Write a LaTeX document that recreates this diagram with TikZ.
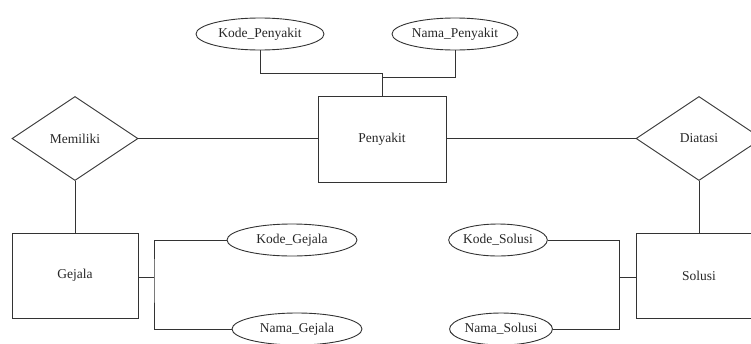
\documentclass[tikz,border=0pt]{standalone}
\usepackage{fontspec}
\setmainfont{Liberation Serif}
\usetikzlibrary{shapes.geometric}
\begin{document}
\begin{tikzpicture}[x=1pt,y=-1pt,
  every node/.style={font=\fontsize{13.5}{15}\selectfont, text=black!85},
  ln/.style={draw=black!80, line width=0.9pt},
  attr/.style={ln, ellipse, inner sep=0pt, minimum height=32pt},
  ent/.style={ln, rectangle, inner sep=0pt},
  rel/.style={ln, diamond, inner sep=0pt, aspect=1.5, minimum width=126pt, minimum height=84pt}]
\useasboundingbox (0,0) rectangle (751,343);
\node[attr, minimum width=128pt] (kp) at (260,34) {Kode\_Penyakit};
\node[attr, minimum width=126pt] (np) at (455,34) {Nama\_Penyakit};
\node[ent, minimum width=128pt, minimum height=86pt] (pen) at (382,139) {Penyakit};
\node[rel] (mem) at (75,138.5) {Memiliki};
\node[rel] (dia) at (699,138.5) {Diatasi};
\node[ent, minimum width=126pt, minimum height=85pt] (gej) at (75,275.5) {Gejala};
\node[ent, minimum width=126pt, minimum height=85pt] (sol) at (699,275.5) {Solusi};
\node[attr, minimum width=130pt] (kg) at (292,240) {Kode\_Gejala};
\node[attr, minimum width=130pt] (ng) at (297,329) {Nama\_Gejala};
\node[attr, minimum width=96pt] (ks) at (498,240) {Kode\_Solusi};
\node[attr, minimum width=102pt] (ns) at (501,329) {Nama\_Solusi};
\coordinate (jp1) at (382,73);
\coordinate (jp2) at (382,77);
\coordinate (jg) at (154,277);
\coordinate (js) at (619,277);
\draw[ln] (kp.south) |- (jp1) -- (pen.north);
\draw[ln] (np.south) |- (jp2);
\draw[ln] (mem.east) -- (mem.east -| pen.west);
\draw[ln] (dia.west -| pen.east) -- (dia.west);
\draw[ln] (mem.south) -- (gej.north);
\draw[ln] (dia.south) -- (sol.north);
\draw[ln] (gej.east |- jg) -- (jg);
\draw[ln] (kg.west) -| (jg) |- (ng.west);
\draw[ln] (sol.west |- js) -- (js);
\draw[ln] (ks.east) -| (js) |- (ns.east);
\end{tikzpicture}
\end{document}
